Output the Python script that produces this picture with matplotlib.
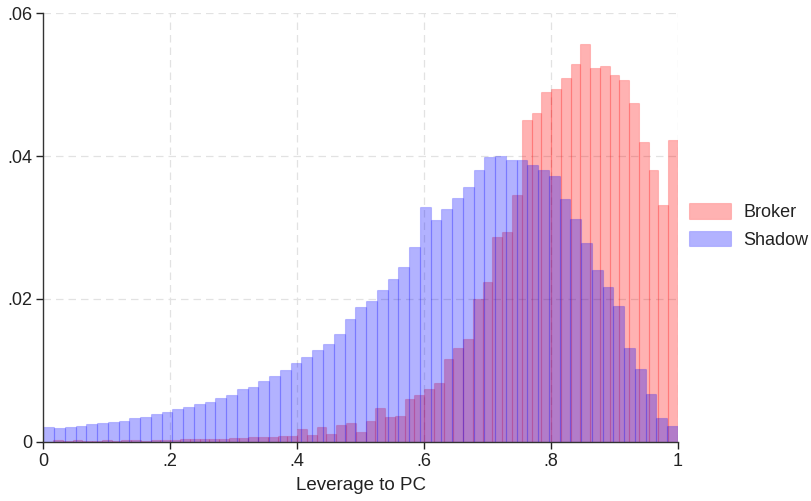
import numpy as np
import matplotlib
matplotlib.use("Agg")
import matplotlib.pyplot as plt
from matplotlib.patches import Patch

plt.rcParams['font.family'] = ['Liberation Sans', 'DejaVu Sans']

# Density per bin (Broker: 65 equal bins on [0,1]; Shadow: 59 equal bins on [0,1])
broker = [0.0000, 0.0002, 0.0001, 0.0002, 0.0001, 0.0001, 0.0002, 0.0001, 0.0002, 0.0002,
          0.0001, 0.0002, 0.0002, 0.0002, 0.0003, 0.0003, 0.0004, 0.0004, 0.0004, 0.0005,
          0.0005, 0.0006, 0.0007, 0.0007,
          0.0008, 0.0008, 0.0017, 0.0009, 0.0021, 0.0011, 0.0023, 0.0026, 0.0013, 0.0029,
          0.0047, 0.0035, 0.0036, 0.0060, 0.0065, 0.0074, 0.0082, 0.0116, 0.0131, 0.0143,
          0.0199, 0.0223, 0.0286, 0.0294, 0.0345,
          0.0451, 0.0460, 0.0490, 0.0494, 0.0509, 0.0529, 0.0557, 0.0524, 0.0526, 0.0513,
          0.0507, 0.0474, 0.0420, 0.0380, 0.0332, 0.0423]
shadow = [0.0021, 0.0019, 0.0021, 0.0022, 0.0024, 0.0026, 0.0028, 0.0029, 0.0033, 0.0035,
          0.0038, 0.0041, 0.0046, 0.0048, 0.0052, 0.0056, 0.0061, 0.0065, 0.0074, 0.0077,
          0.0085, 0.0092, 0.0100, 0.0110, 0.0118, 0.0128, 0.0136, 0.0150, 0.0172, 0.0188,
          0.0197, 0.0212, 0.0228, 0.0245, 0.0272, 0.0329, 0.0311, 0.0326, 0.0341, 0.0357,
          0.0380, 0.0398, 0.0400, 0.0394, 0.0395, 0.0387, 0.0381, 0.0372, 0.0340, 0.0312,
          0.0278, 0.0240, 0.0217, 0.0190, 0.0131, 0.0101, 0.0067, 0.0033, 0.0022]
series_names = ["Broker", "Shadow"]
x_ticks = [0, 0.2, 0.4, 0.6, 0.8, 1.0]
x_ticklabels = ["0", ".2", ".4", ".6", ".8", "1"]
y_ticks = [0, 0.02, 0.04, 0.06]
y_ticklabels = ["0", ".02", ".04", ".06"]
x_label = "Leverage to PC"

red_face = (1.0, 0.0, 0.0, 0.3)
red_edge = (1.0, 0.0, 0.0, 0.18)
blue_face = (0.0, 0.0, 1.0, 0.3)
blue_edge = (0.0, 0.0, 1.0, 0.18)

fig = plt.figure(figsize=(8.12, 5.01), dpi=100)
ax = fig.add_axes([43.3/812, 1-441.5/501, (678-43.3)/812, (441.5-13.3)/501])

for vals, fc, ec in ((broker, red_face, red_edge), (shadow, blue_face, blue_edge)):
    edges = np.linspace(0, 1, len(vals) + 1)
    ax.bar(edges[:-1], vals, width=np.diff(edges), align='edge',
           facecolor=fc, edgecolor=ec, linewidth=0.8, zorder=2)

ax.set_xlim(0, 1)
ax.set_ylim(0, 0.06)
ax.set_xticks(x_ticks)
ax.set_xticklabels(x_ticklabels)
ax.set_yticks(y_ticks)
ax.set_yticklabels(y_ticklabels)
ax.tick_params(axis='both', labelsize=13, colors='#222222', length=5, width=1, direction='out', pad=3)
ax.set_xlabel(x_label, fontsize=13.5, color='#222222', labelpad=5)

for s in ('top', 'right'):
    ax.spines[s].set_visible(False)
for s in ('left', 'bottom'):
    ax.spines[s].set_color('#333333')
    ax.spines[s].set_linewidth(1)

ax.set_axisbelow(True)
for xv in x_ticks[1:]:
    ax.axvline(xv, color='#e2e2e2', linewidth=0.9, linestyle=(0, (6, 4)), zorder=0)
for yv in y_ticks[1:]:
    ax.axhline(yv, color='#e2e2e2', linewidth=0.9, linestyle=(0, (6, 4)), zorder=0)

handles = [Patch(facecolor=red_face, edgecolor=red_edge, linewidth=0.8, label=series_names[0]),
           Patch(facecolor=blue_face, edgecolor=blue_edge, linewidth=0.8, label=series_names[1])]
fig.legend(handles=handles, loc='center left', bbox_to_anchor=(689/812, 1-226/501),
           bbox_transform=fig.transFigure, frameon=False, fontsize=13,
           handlelength=2.3, handleheight=0.95, handletextpad=0.7, labelspacing=0.5,
           borderpad=0, borderaxespad=0, labelcolor='#222222')

fig.savefig("out.png", dpi=100)
